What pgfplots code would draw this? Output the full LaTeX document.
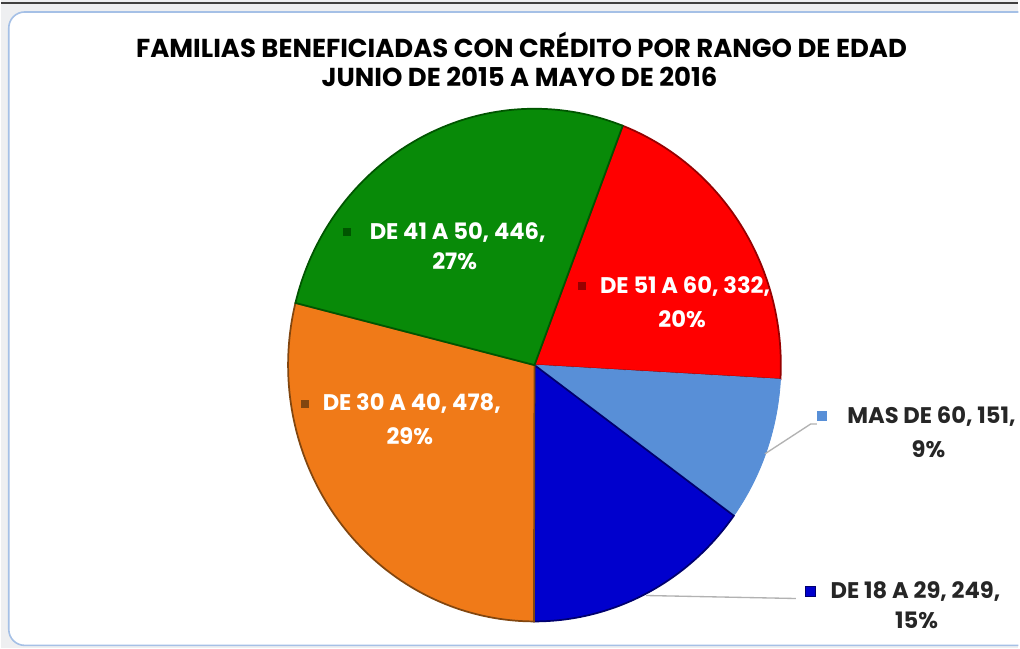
\documentclass[border=0pt]{standalone}
\usepackage{pgfplots}
\pgfplotsset{compat=1.18}
\usepackage{pgfplotstable}
\usepackage{fontspec}
\setmainfont{Poppins}
\definecolor{cGreen}{RGB}{8,138,8}
\definecolor{cGreenD}{RGB}{0,85,0}
\definecolor{cRed}{RGB}{255,0,0}
\definecolor{cRedD}{RGB}{150,0,0}
\definecolor{cLBlue}{RGB}{88,143,215}
\definecolor{cLBlueD}{RGB}{70,115,180}
\definecolor{cDBlue}{RGB}{0,0,205}
\definecolor{cDBlueD}{RGB}{0,0,110}
\definecolor{cOrange}{RGB}{240,122,24}
\definecolor{cOrangeD}{RGB}{130,70,15}
\definecolor{cFrame}{RGB}{165,192,230}
\definecolor{cBack}{RGB}{238,239,241}

\pgfplotstableread{
rango valor
{DE 51 A 60} 332
{MAS DE 60} 151
{DE 18 A 29} 249
{DE 30 A 40} 478
{DE 41 A 50} 446
}\piedata

\pgfplotstablegetelem{0}{valor}\of\piedata \let\vA\pgfplotsretval
\pgfplotstablegetelem{1}{valor}\of\piedata \let\vB\pgfplotsretval
\pgfplotstablegetelem{2}{valor}\of\piedata \let\vC\pgfplotsretval
\pgfplotstablegetelem{3}{valor}\of\piedata \let\vD\pgfplotsretval
\pgfplotstablegetelem{4}{valor}\of\piedata \let\vE\pgfplotsretval
\pgfmathsetmacro\tot{\vA+\vB+\vC+\vD+\vE}
\pgfmathsetmacro\aS{69}
\pgfmathsetmacro\aA{\aS-\vA/\tot*360}
\pgfmathsetmacro\aB{\aA-\vB/\tot*360}
\pgfmathsetmacro\aC{\aB-\vC/\tot*360}
\pgfmathsetmacro\aD{\aC-\vD/\tot*360}
\pgfmathsetmacro\aE{\aD-\vE/\tot*360}

\newcommand{\lbl}{\fontsize{17}{20}\selectfont\bfseries}
\newcommand{\ttl}{\fontsize{19.5}{23}\selectfont\bfseries}

\begin{document}
\begin{tikzpicture}
\begin{axis}[
  scale only axis, width=765pt, height=487.5pt,
  xmin=0, xmax=1020, ymin=0, ymax=650,
  axis lines=none, clip=false,
  at={(0,0)}, anchor=south west,
]
% background and frame
\fill[cBack] (axis cs:0,0) rectangle (axis cs:1020,650);
\draw[black!75, line width=1.2pt] (axis cs:0,647) -- (axis cs:1020,647);
\begin{scope}
\clip (axis cs:0,0) rectangle (axis cs:1020,650);
\filldraw[fill=white, draw=cFrame, line width=1.2pt, rounded corners=12pt] (axis cs:8,3) rectangle (axis cs:1060,638);
\end{scope}

% wedges
\addplot[fill=cRed, draw=cRedD, line width=1.3pt, domain=\aA:\aS, samples=80, variable=\t]
  ({535+247*cos(\t)},{284+257*sin(\t)}) -- (axis cs:535,284) -- cycle;
\addplot[fill=cLBlue, draw=cLBlue, line width=0.6pt, domain=\aB:\aA, samples=60, variable=\t]
  ({535+247*cos(\t)},{284+257*sin(\t)}) -- (axis cs:535,284) -- cycle;
\addplot[fill=cDBlue, draw=cDBlueD, line width=1.3pt, domain=\aC:\aB, samples=60, variable=\t]
  ({535+247*cos(\t)},{284+257*sin(\t)}) -- (axis cs:535,284) -- cycle;
\addplot[fill=cOrange, draw=cOrangeD, line width=1.3pt, domain=\aD:\aC, samples=80, variable=\t]
  ({535+247*cos(\t)},{284+257*sin(\t)}) -- (axis cs:535,284) -- cycle;
\addplot[fill=cGreen, draw=cGreenD, line width=1.3pt, domain=\aE:\aD, samples=80, variable=\t]
  ({535+247*cos(\t)},{284+257*sin(\t)}) -- (axis cs:535,284) -- cycle;

% leader lines
\draw[black!30, line width=1pt] (axis cs:766,195) -- (axis cs:812,225) -- (axis cs:818,225);
\draw[black!30, line width=1pt] (axis cs:647,53) -- (axis cs:797,50);

% title
\node[font=\ttl] at (axis cs:522,605) {FAMILIAS BENEFICIADAS CON CRÉDITO POR RANGO DE EDAD};
\node[font=\ttl] at (axis cs:520,573) {JUNIO DE 2015 A MAYO DE 2016};

% labels inside
\fill[cGreenD] (axis cs:343,413) rectangle (axis cs:351,421);
\node[font=\lbl, white] at (axis cs:458,417) {DE 41 A 50, 446,};
\node[font=\lbl, white] at (axis cs:455,388) {27\%};

\fill[cRedD] (axis cs:579,359) rectangle (axis cs:587,367);
\node[font=\lbl, white] at (axis cs:686,363) {DE 51 A 60, 332,};
\node[font=\lbl, white] at (axis cs:683,330) {20\%};

\fill[cOrangeD] (axis cs:301,241) rectangle (axis cs:309,249);
\node[font=\lbl, white] at (axis cs:412,245) {DE 30 A 40, 478,};
\node[font=\lbl, white] at (axis cs:410,213) {29\%};

% labels outside
\fill[cLBlue] (axis cs:818,228) rectangle (axis cs:828,238);
\node[font=\lbl, black!85] at (axis cs:933,232) {MAS DE 60, 151,};
\node[font=\lbl, black!85] at (axis cs:930,200) {9\%};

\fill[cDBlue] (axis cs:807,52) rectangle (axis cs:817,62);
\draw[cDBlueD, line width=0.5pt] (axis cs:807,52) rectangle (axis cs:817,62);
\node[font=\lbl, black!85] at (axis cs:917,57) {DE 18 A 29, 249,};
\node[font=\lbl, black!85] at (axis cs:918,28) {15\%};
\end{axis}
\end{tikzpicture}
\end{document}
